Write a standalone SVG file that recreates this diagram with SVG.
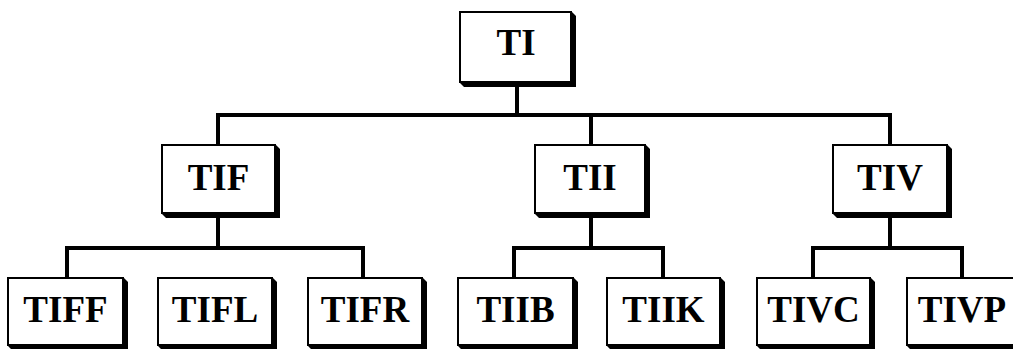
<svg xmlns="http://www.w3.org/2000/svg" width="1013" height="349" viewBox="0 0 1013 349">
  <style>
    .box { fill: #ffffff; stroke: #000000; stroke-width: 2; }
    .shadow { fill: #000000; }
    .label { font-family: "Liberation Serif", "Times New Roman", serif; font-weight: bold; font-size: 37px; fill: #000000; text-anchor: middle; }
    .wire { fill: none; stroke: #000000; stroke-width: 4; stroke-linejoin: miter; stroke-linecap: butt; }
  </style>

  <rect width="1013" height="349" fill="#ffffff"/>

  <!-- connectors -->
  <g id="connectors">
    <path class="wire" d="M517 86 V115"/>
    <path class="wire" d="M218 145 V115 H890 V145"/>
    <path class="wire" d="M591 115 V145"/>
    <path class="wire" d="M218 217 V248"/>
    <path class="wire" d="M591 217 V248"/>
    <path class="wire" d="M890 217 V248"/>
    <path class="wire" d="M67 278 V248 H363 V278"/>
    <path class="wire" d="M514 278 V248 H663 V278"/>
    <path class="wire" d="M813 278 V248 H962 V278"/>
  </g>

  <!-- level 0 -->
  <g id="TI">
    <polygon class="shadow" points="572,12 576,16 576,87 464,87 460,83 572,83"/>
    <rect class="box" x="460" y="12" width="111" height="70"/>
    <text class="label" x="516" y="55">TI</text>
  </g>

  <!-- level 1 -->
  <g id="TIF">
    <polygon class="shadow" points="276,145 280,149 280,218 166,218 162,214 276,214"/>
    <rect class="box" x="162" y="145" width="113" height="68"/>
    <text class="label" x="218.5" y="190">TIF</text>
  </g>
  <g id="TII">
    <polygon class="shadow" points="646,145 650,149 650,218 539,218 535,214 646,214"/>
    <rect class="box" x="535" y="145" width="110" height="68"/>
    <text class="label" x="590" y="190">TII</text>
  </g>
  <g id="TIV">
    <polygon class="shadow" points="948,145 952,149 952,218 837,218 833,214 948,214"/>
    <rect class="box" x="833" y="145" width="114" height="68"/>
    <text class="label" x="890" y="190">TIV</text>
  </g>

  <!-- level 2 -->
  <g id="TIFF">
    <polygon class="shadow" points="124,278 128,282 128,350 12,350 8,346 124,346"/>
    <rect class="box" x="8" y="278" width="115" height="67"/>
    <text class="label" x="65.5" y="322">TIFF</text>
  </g>
  <g id="TIFL">
    <polygon class="shadow" points="273,278 277,282 277,350 162,350 158,346 273,346"/>
    <rect class="box" x="158" y="278" width="114" height="67"/>
    <text class="label" x="215" y="322">TIFL</text>
  </g>
  <g id="TIFR">
    <polygon class="shadow" points="423,278 427,282 427,350 312,350 308,346 423,346"/>
    <rect class="box" x="308" y="278" width="114" height="67"/>
    <text class="label" x="365" y="322">TIFR</text>
  </g>
  <g id="TIIB">
    <polygon class="shadow" points="574,278 578,282 578,350 462,350 458,346 574,346"/>
    <rect class="box" x="458" y="278" width="115" height="67"/>
    <text class="label" x="515.5" y="322">TIIB</text>
  </g>
  <g id="TIIK">
    <polygon class="shadow" points="721,278 725,282 725,350 611,350 607,346 721,346"/>
    <rect class="box" x="607" y="278" width="113" height="67"/>
    <text class="label" x="663.5" y="322">TIIK</text>
  </g>
  <g id="TIVC">
    <polygon class="shadow" points="871,278 875,282 875,350 761,350 757,346 871,346"/>
    <rect class="box" x="757" y="278" width="113" height="67"/>
    <text class="label" x="813.5" y="322">TIVC</text>
  </g>
  <g id="TIVP">
    <polygon class="shadow" points="1021,278 1025,282 1025,350 911,350 907,346 1021,346"/>
    <rect class="box" x="907" y="278" width="113" height="67"/>
    <text class="label" x="962" y="322">TIVP</text>
  </g>
</svg>
